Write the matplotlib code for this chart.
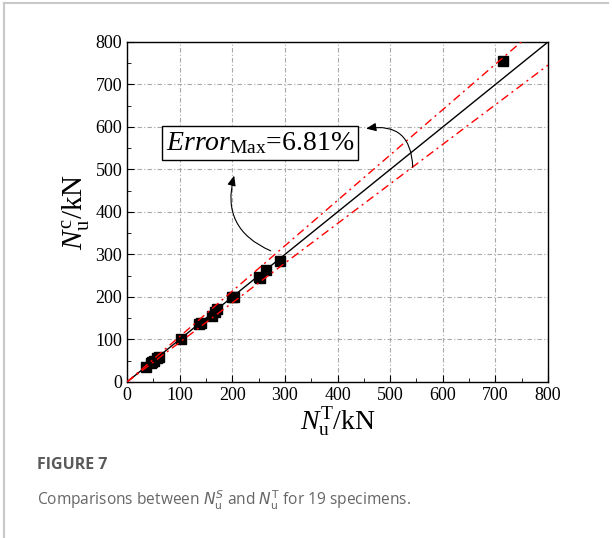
import matplotlib
matplotlib.use("Agg")
import matplotlib.pyplot as plt
from matplotlib.lines import Line2D
from matplotlib.ticker import MultipleLocator
import numpy as np

# test / calculated ultimate loads (kN)
n_test = [37, 45, 48, 52, 57, 61, 102, 137, 140, 161, 168, 171, 200, 203, 250, 253, 265, 291, 715]
n_calc = [36, 45, 47, 50, 56, 59, 102, 137, 139, 155, 165, 172, 201, 200, 247, 245, 263, 285, 756]
err_max = 0.0681
ticks = [0, 100, 200, 300, 400, 500, 600, 700, 800]

plt.rcParams["font.family"] = "Liberation Serif"
plt.rcParams["mathtext.fontset"] = "custom"
plt.rcParams["mathtext.rm"] = "Liberation Serif"
plt.rcParams["mathtext.it"] = "Liberation Serif:italic"


def draw_graph():
    fig = plt.figure(figsize=(6.12, 5.38), dpi=100)
    ax = fig.add_axes([0.2075, 0.29, 0.688, 0.632])

    ax.grid(True, color="#a8a8a8", linestyle=(0, (4, 2, 1, 2)), linewidth=0.8)
    ax.set_axisbelow(True)

    ax.plot(n_test, n_calc, "s", color="black", ms=7, zorder=3)

    # 1:1 line and +/- error bounds
    xs = np.array([0, 800])
    ax.plot(xs, xs, color="black", lw=1.0, zorder=4)
    ax.plot([0, 800 / (1 + err_max)], [0, 800], color="red", lw=1.0,
            linestyle=(0, (6, 3, 1.5, 3)), zorder=5)
    ax.plot(xs, xs * (1 - err_max), color="red", lw=1.0,
            linestyle=(0, (6, 3, 1.5, 3)), zorder=5)

    ax.set_xlim(0, 800)
    ax.set_ylim(0, 800)
    ax.set_xticks(ticks)
    ax.set_yticks(ticks)
    ax.xaxis.set_minor_locator(MultipleLocator(50))
    ax.yaxis.set_minor_locator(MultipleLocator(50))
    ax.tick_params(which="both", direction="in", labelsize=13, top=False, right=False)
    ax.tick_params(which="major", length=5)
    ax.tick_params(which="minor", length=3)
    for s in ax.spines.values():
        s.set_linewidth(1.0)

    ax.set_xlabel(r"$N_{\rm u}^{\rm T}$/kN", fontsize=20, labelpad=1)
    ax.set_ylabel(r"$N_{\rm u}^{\rm c}$/kN", fontsize=21, labelpad=2)

    ax.text(253, 562, r"$Error_{\rm Max}$=6.81%", fontsize=20, ha="center", va="center",
            zorder=6, bbox=dict(boxstyle="square,pad=0.15", fc="white", ec="black", lw=1.0))

    ax.annotate("", xy=(449, 595), xytext=(543, 499), zorder=6,
                arrowprops=dict(arrowstyle="-|>,head_length=0.6,head_width=0.25",
                                connectionstyle="arc3,rad=0.6", color="black", lw=0.8))
    ax.annotate("", xy=(205, 492), xytext=(278, 306), zorder=6,
                arrowprops=dict(arrowstyle="-|>,head_length=0.6,head_width=0.25",
                                connectionstyle="arc3,rad=-0.45", color="black", lw=0.8))

    # caption frame
    fig.add_artist(Line2D([0.0065, 0.0065], [0, 0.995], color="#c8c8c8", lw=1.5))
    fig.add_artist(Line2D([0.0065, 0.993], [0.995, 0.995], color="#c8c8c8", lw=1.5))

    fig.text(0.06, 0.135, "FIGURE 7", fontsize=11.5, fontweight="bold", color="#5a5a5a",
             family="Open Sans", va="center")
    fig.text(0.06, 0.07, r"Comparisons between $N_{\rm u}^{S}$ and $N_{\rm u}^{\rm T}$ for 19 specimens.",
             fontsize=11.2, color="#666666", family="Open Sans", va="center",
             math_fontfamily="dejavusans")

    fig.savefig("out.png", dpi=100)


if __name__ == "__main__":
    draw_graph()
